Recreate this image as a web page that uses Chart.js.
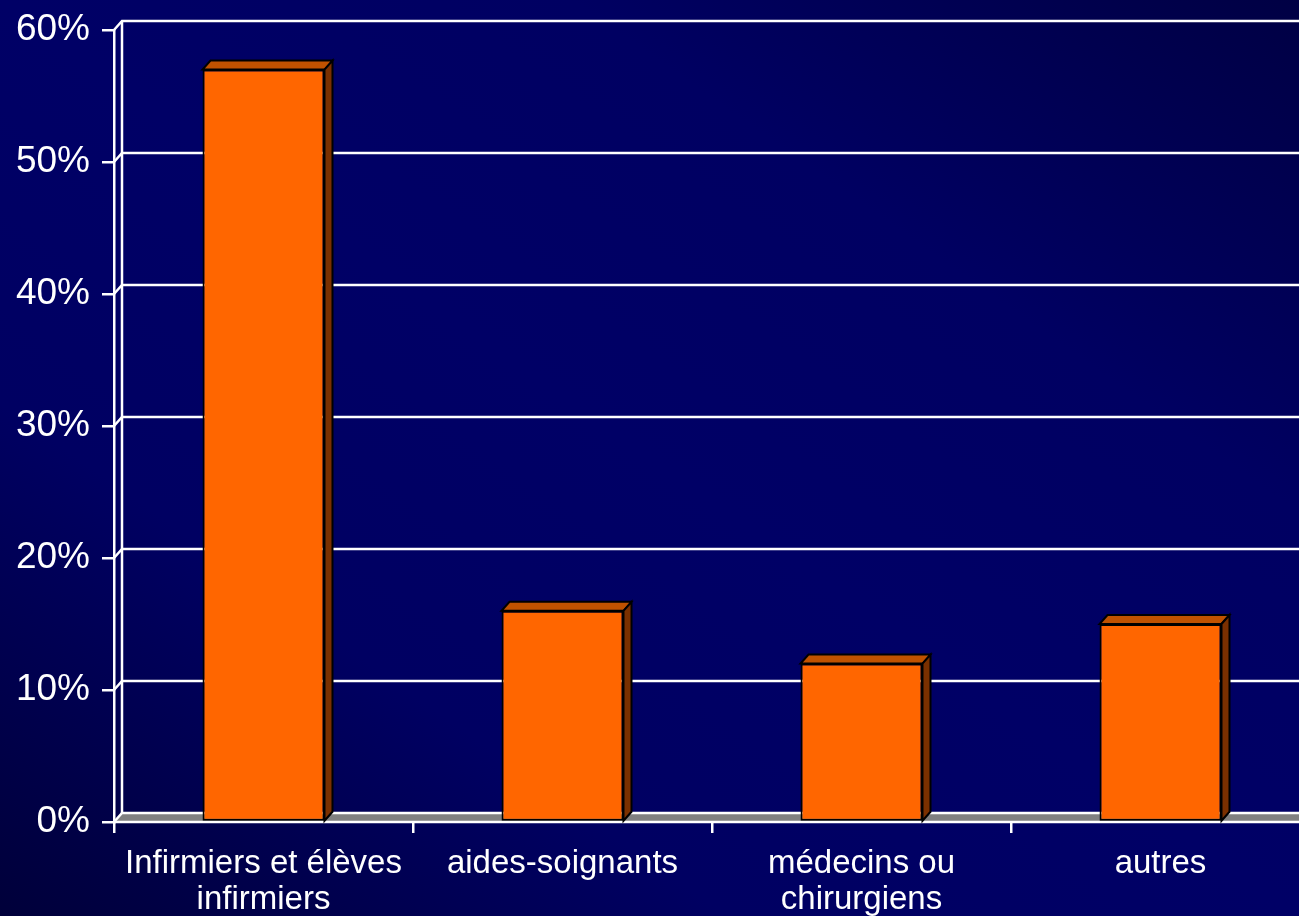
<!DOCTYPE html>
<html>
<head>
<meta charset="utf-8">
<script src="https://cdn.jsdelivr.net/npm/chart.js@4/dist/chart.umd.min.js"></script>
<style>
  html, body {
    margin: 0;
    padding: 0;
    width: 1299px;
    height: 916px;
    overflow: hidden;
    background: linear-gradient(to top right, #00003a 0%, #000062 28%, #000066 50%, #000062 72%, #000044 100%);
  }
  #wrap { position: absolute; left: 0; top: 0; width: 1330px; height: 916px; }
</style>
</head>
<body>
<div id="wrap"><canvas id="chart" width="1330" height="916"></canvas></div>
<script>
// Répartition des professions (en %)
const categories = [["Infirmiers et élèves", "infirmiers"], "aides-soignants", ["médecins ou", "chirurgiens"], "autres"];
const shares = [57, 16, 12, 15];
const yTickValues = [0, 10, 20, 30, 40, 50, 60];

// Depth of the pseudo-3D projection (pixels)
const DEPTH_X = 8;
const DEPTH_Y = -9;

const depth3d = {
  id: 'depth3d',
  beforeDatasetsDraw(chart) {
    const { ctx, chartArea, scales } = chart;
    const { left, right, bottom } = chartArea;
    const y = scales.y;
    const top = y.getPixelForValue(yTickValues[yTickValues.length - 1]);
    ctx.save();
    // floor
    ctx.fillStyle = '#808080';
    ctx.beginPath();
    ctx.moveTo(left, bottom);
    ctx.lineTo(right + 40, bottom);
    ctx.lineTo(right + 40 + DEPTH_X, bottom + DEPTH_Y);
    ctx.lineTo(left + DEPTH_X, bottom + DEPTH_Y);
    ctx.closePath();
    ctx.fill();

    // back wall grid + left wall diagonals
    ctx.strokeStyle = '#ffffff';
    ctx.lineWidth = 2.5;
    yTickValues.forEach(v => {
      const py = y.getPixelForValue(v);
      ctx.beginPath();
      ctx.moveTo(left, py);
      ctx.lineTo(left + DEPTH_X, py + DEPTH_Y);
      ctx.lineTo(right + 60, py + DEPTH_Y);
      ctx.stroke();
    });
    // back wall vertical edge
    ctx.beginPath();
    ctx.moveTo(left + DEPTH_X, top + DEPTH_Y);
    ctx.lineTo(left + DEPTH_X, bottom + DEPTH_Y);
    ctx.stroke();
    // front edge of the floor
    ctx.beginPath();
    ctx.moveTo(left - 1, bottom);
    ctx.lineTo(right + 40, bottom);
    ctx.stroke();
    ctx.restore();
  },
  afterDatasetsDraw(chart) {
    const { ctx } = chart;
    const meta = chart.getDatasetMeta(0);
    ctx.save();
    ctx.lineWidth = 2;
    ctx.strokeStyle = '#000000';
    ctx.lineJoin = 'miter';
    meta.data.forEach(bar => {
      const p = bar.getProps(['x', 'y', 'base', 'width'], true);
      const L = p.x - p.width / 2, R = p.x + p.width / 2, T = p.y, B = p.base;
      // top face
      ctx.fillStyle = '#c05200';
      ctx.beginPath();
      ctx.moveTo(L, T);
      ctx.lineTo(R, T);
      ctx.lineTo(R + DEPTH_X, T + DEPTH_Y);
      ctx.lineTo(L + DEPTH_X, T + DEPTH_Y);
      ctx.closePath();
      ctx.fill();
      ctx.stroke();
      // side face
      ctx.fillStyle = '#7a3000';
      ctx.beginPath();
      ctx.moveTo(R, T);
      ctx.lineTo(R + DEPTH_X, T + DEPTH_Y);
      ctx.lineTo(R + DEPTH_X, B + DEPTH_Y);
      ctx.lineTo(R, B);
      ctx.closePath();
      ctx.fill();
      ctx.stroke();
    });
    ctx.restore();
  }
};

new Chart(document.getElementById('chart'), {
  type: 'bar',
  data: {
    labels: categories,
    datasets: [{
      data: shares,
      backgroundColor: '#ff6600',
      borderColor: '#000000',
      borderWidth: 2,
      borderSkipped: false,
      categoryPercentage: 1,
      barPercentage: 0.408
    }]
  },
  options: {
    responsive: false,
    animation: false,
    devicePixelRatio: 1,
    layout: { padding: { top: 30, right: 20, left: 0, bottom: 0 } },
    plugins: {
      legend: { display: false },
      tooltip: { enabled: false }
    },
    scales: {
      x: {
        afterFit: s => { s.height = 94; s.paddingLeft = 0; s.paddingRight = 0; },
        grid: {
          offset: true,
          drawOnChartArea: false,
          drawTicks: true,
          tickLength: 11,
          color: '#ffffff',
          lineWidth: 2.5
        },
        border: { display: false },
        ticks: {
          color: '#ffffff',
          padding: 13,
          maxRotation: 0,
          autoSkip: false,
          font: { family: '"Liberation Sans", Arial, sans-serif', size: 33, lineHeight: 1.08 }
        }
      },
      y: {
        min: 0,
        max: 60,
        afterFit: s => { s.width = 114; s.paddingTop = 0; s.paddingBottom = 0; },
        afterBuildTicks: s => { s.ticks = yTickValues.map(v => ({ value: v })); },
        grid: {
          drawOnChartArea: false,
          drawTicks: true,
          tickLength: 12,
          color: '#ffffff',
          lineWidth: 2.5
        },
        border: { display: true, color: '#ffffff', width: 2.5 },
        ticks: {
          color: '#ffffff',
          padding: 12,
          callback: v => v + '%',
          font: { family: '"Liberation Sans", Arial, sans-serif', size: 37 }
        }
      }
    }
  },
  plugins: [depth3d]
});
</script>
</body>
</html>
